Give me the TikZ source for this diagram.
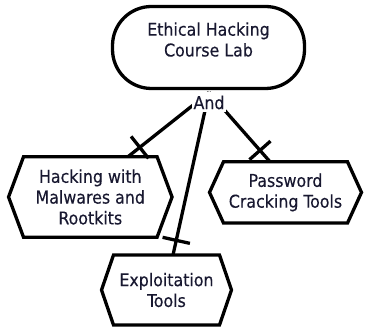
\documentclass[tikz,border=0pt]{standalone}
\usepackage{fontspec}
\setmainfont{DejaVu Sans Condensed}[FakeBold=0.3]
\usetikzlibrary{decorations.markings,backgrounds}
\definecolor{ink}{RGB}{24,24,48}

% hexagonal outline around a rectangular node; #2 is how far the tips stick out
\newcommand\hexframe[2]{%
  \draw[frame] ([xshift=#2pt]#1.north west) -- ([xshift=-#2pt]#1.north east)
    -- (#1.east) -- ([xshift=-#2pt]#1.south east)
    -- ([xshift=#2pt]#1.south west) -- (#1.west) -- cycle;}

\begin{document}
\begin{tikzpicture}[x=1pt,y=-1pt,
  frame/.style={line width=3.3pt, line join=miter},
  boxtext/.style={font=\fontsize{17.6}{20.8}\selectfont, text=ink,
    align=center, inner sep=0pt, outer sep=0pt},
  rootbox/.style={draw, line width=3.3pt, rounded corners=39pt,
    minimum width=192pt, minimum height=82pt, inner sep=0pt, outer sep=0pt},
  hexnode/.style={boxtext},
  link/.style={line width=3.3pt, postaction={decorate},
    decoration={markings, mark=at position -15pt with
      {\draw[line width=3.3pt] (0pt,-14pt) -- (0pt,14pt);}}}
]
\useasboundingbox (0,0) rectangle (366,328);

% root goal
\node[rootbox] (root) at (208.5,47.5) {};
\node[boxtext] (roottitle) at (208.5,39.5) {Ethical Hacking\\Course Lab};

% sub-goals
\node[hexnode, minimum width=163.5pt, minimum height=80.6pt] (malware)
  at (90.3,197) {Hacking with\\Malwares and\\Rootkits};
\hexframe{malware}{15}
\node[hexnode, minimum width=152pt, minimum height=61.3pt] (password)
  at (285.5,192.4) {Password\\Cracking Tools};
\hexframe{password}{14}
\node[hexnode, minimum width=130pt, minimum height=70pt] (exploit)
  at (166.5,290) {Exploitation\\Tools};
\hexframe{exploit}{12}

% decomposition operator
\node[boxtext, fill=white, minimum width=34pt, minimum height=20pt] (and)
  at (209,102.5) {And};

% decomposition links, kept behind the operator label
\begin{scope}[on background layer]
  \draw[link] (and.north) -- ([xshift=37.7pt]malware.north);
  \draw[link] (and.north) -- ([xshift=6.5pt]exploit.north);
  \draw[link] (and.north) -- ([xshift=-15.5pt]password.north);
\end{scope}
\end{tikzpicture}
\end{document}
